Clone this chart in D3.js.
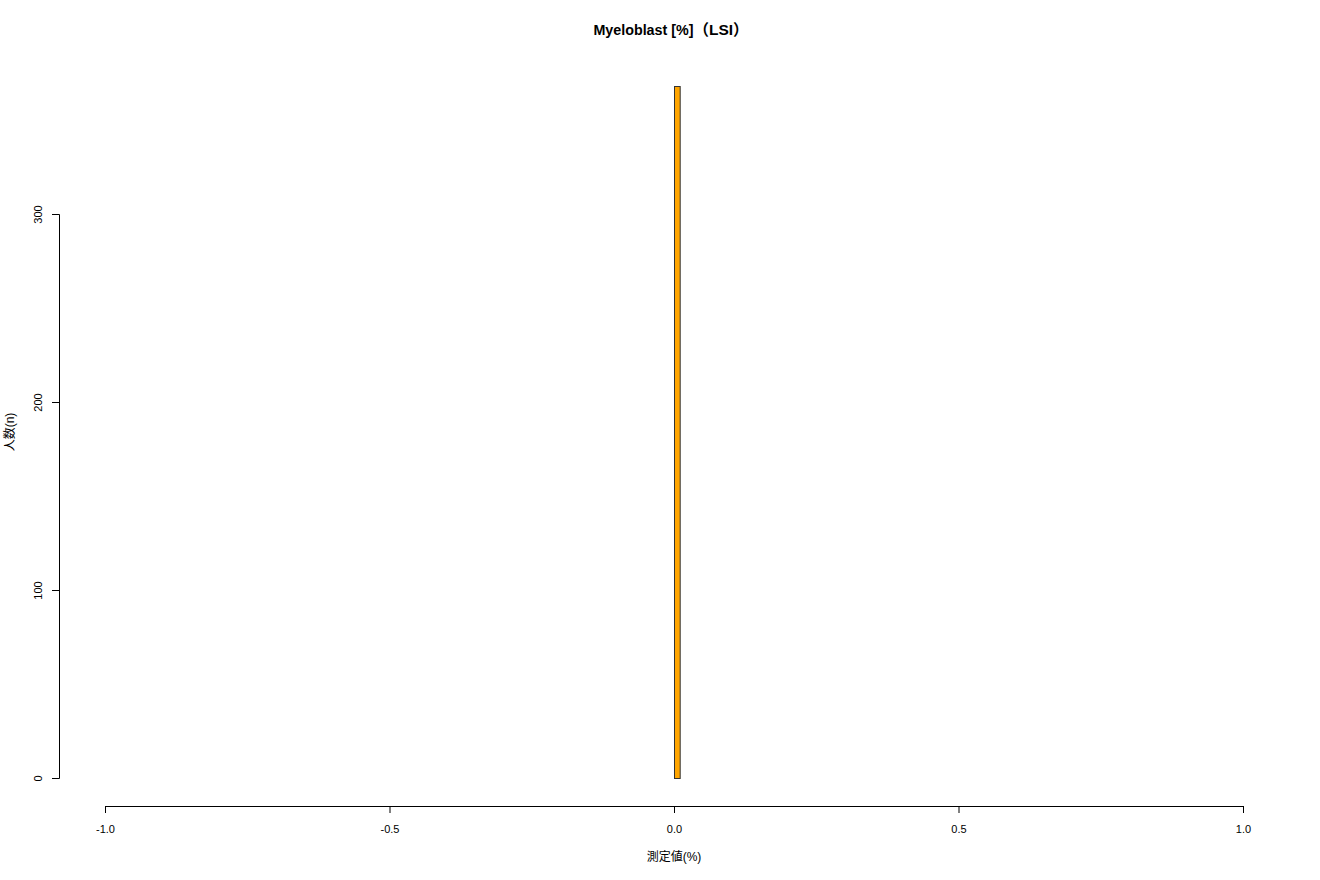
<!DOCTYPE html>
<html><head><meta charset="utf-8">
<script src="https://cdn.jsdelivr.net/npm/d3@7"></script>
<style>body{margin:0;background:#fff}svg{display:block}</style>
</head><body>
<script>
const binStarts = [0.0];
const binEnds = [0.01];
const counts = [368];
const xTicks = [-1.0, -0.5, 0.0, 0.5, 1.0];
const yTicks = [0, 100, 200, 300];
const titleMain = "Myeloblast [%]";
const titleSub = "（LSI）";
const xLabel = "測定値(%)";
const yLabel = "人数(n)";

const W = 1320, H = 880;
const svg = d3.select("body").append("svg").attr("width", W).attr("height", H);
const font = "'Liberation Sans', Arial, 'Noto Sans CJK JP', sans-serif";

const x = d3.scaleLinear().domain([-1, 1]).range([105, 1243]);
const y = d3.scaleLinear().domain([0, 300]).range([778, 214]);

svg.selectAll("rect.bar").data(counts).enter().append("rect")
  .attr("x", (d, i) => x(binStarts[i]) + 0.5)
  .attr("width", (d, i) => x(binEnds[i]) - x(binStarts[i]))
  .attr("y", d => Math.round(y(d)) + 0.5)
  .attr("height", d => y(0) - Math.round(y(d)))
  .attr("fill", "#FFA500").attr("stroke", "#333").attr("stroke-width", 1);

const fmt = d => d.toFixed(1);
const xa = svg.append("g").attr("transform", "translate(0,806)")
  .call(d3.axisBottom(x).tickValues(xTicks).tickFormat(fmt).tickSize(7).tickPadding(12));
const ya = svg.append("g").attr("transform", "translate(59,0)")
  .call(d3.axisLeft(y).tickValues(yTicks).tickSize(7).tickPadding(12));
[xa, ya].forEach(a => {
  a.select(".domain").attr("stroke", "#000");
  a.selectAll(".tick line").attr("stroke", "#000");
  a.selectAll("text").attr("font-family", font).attr("font-size", 11).attr("fill", "#000");
});
ya.selectAll(".tick text").each(function(d){
  d3.select(this).attr("x", null).attr("y", null).attr("dy", null)
    .attr("transform", `translate(-17,0) rotate(-90)`).attr("text-anchor", "middle");
});

const t = svg.append("text").attr("x", 671).attr("y", 35).attr("text-anchor", "middle")
  .attr("font-family", font).attr("font-weight", "bold");
t.append("tspan").attr("font-size", 14.3).text(titleMain);
t.append("tspan").attr("font-size", 15.5).text(titleSub);
svg.append("text").attr("x", 674).attr("y", 861).attr("text-anchor", "middle")
  .attr("font-family", font).attr("font-size", 12).text(xLabel);
svg.append("text").attr("transform", "translate(14,432) rotate(-90)").attr("text-anchor", "middle")
  .attr("font-family", font).attr("font-size", 12).text(yLabel);
</script>
</body></html>
